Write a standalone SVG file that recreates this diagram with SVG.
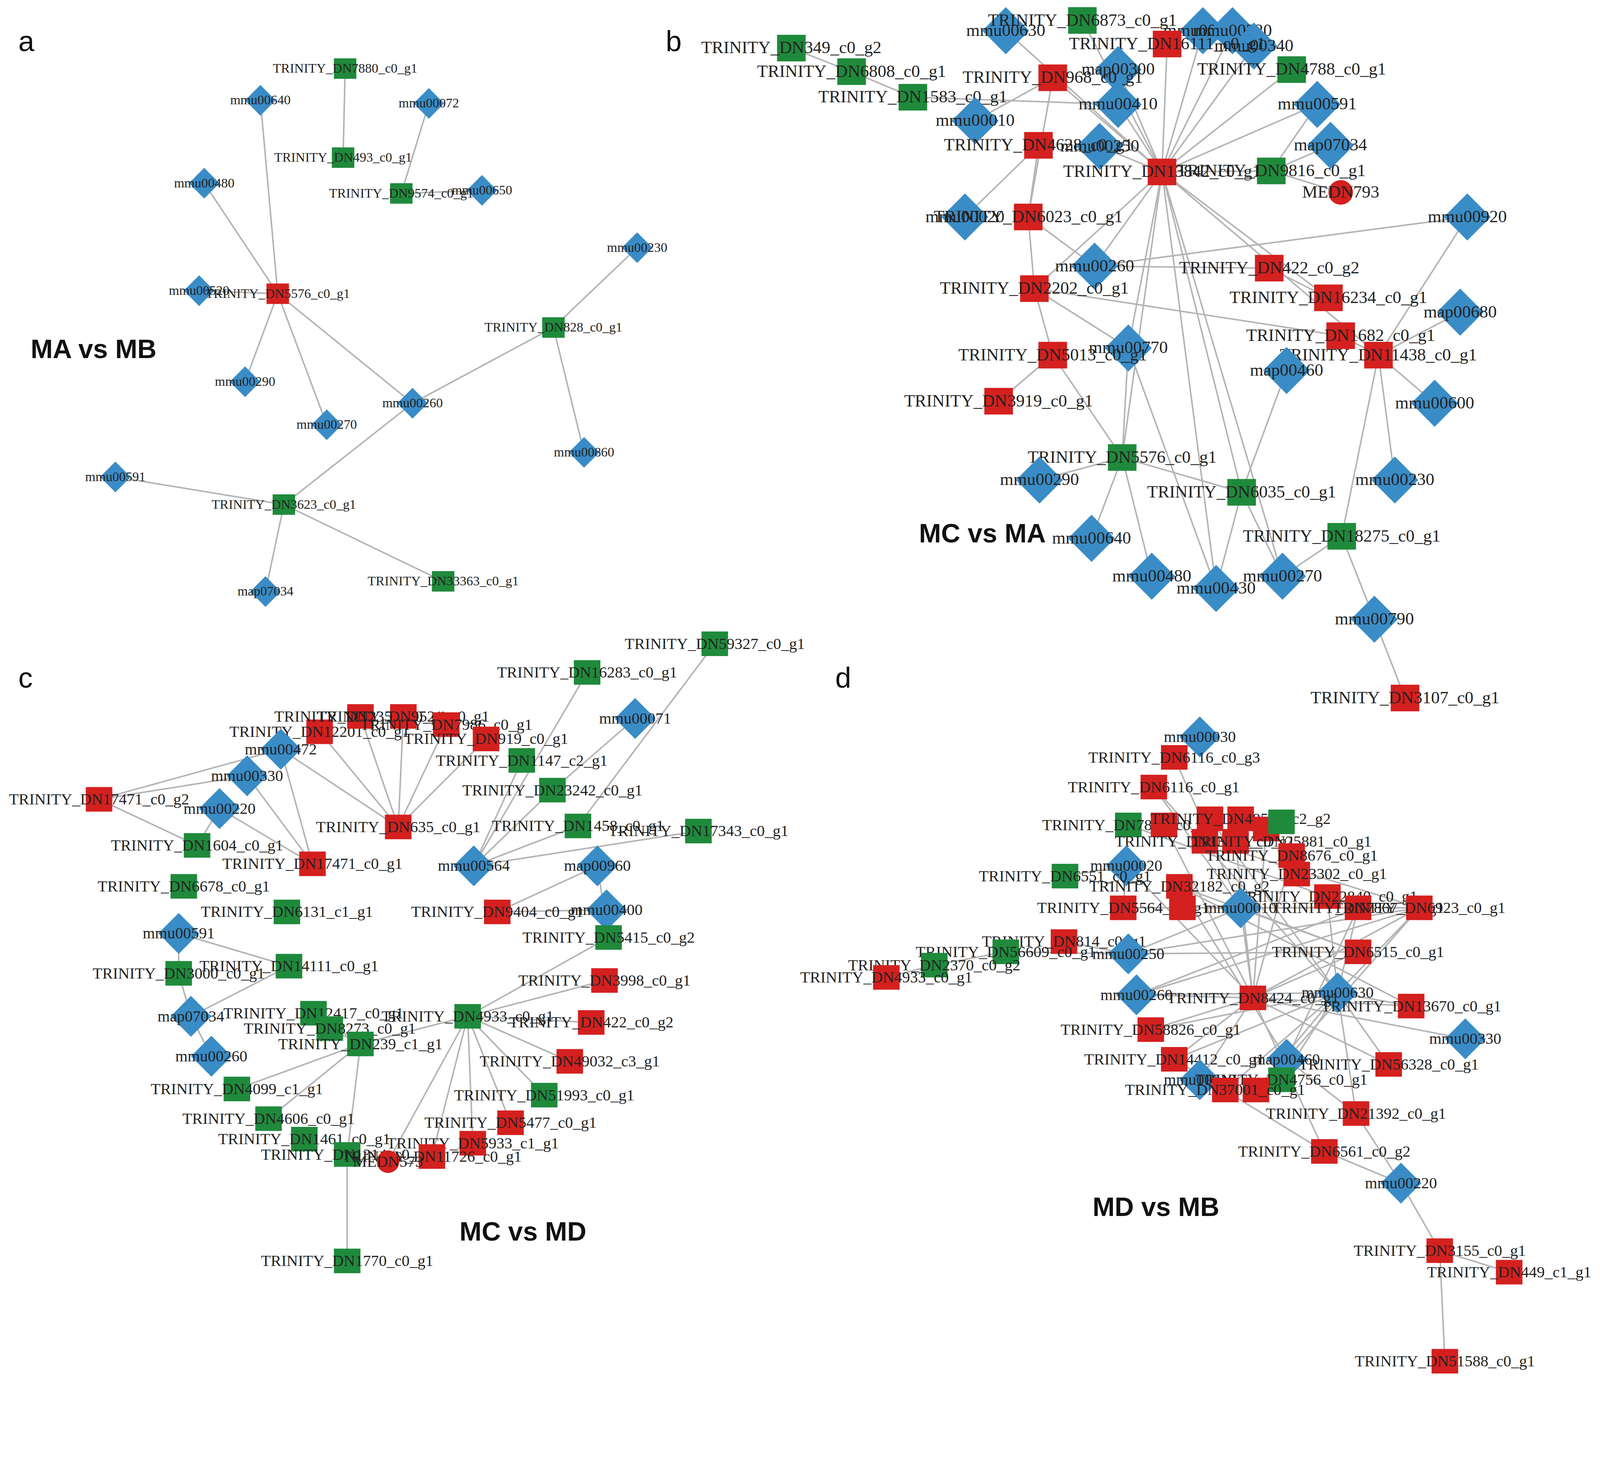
<svg xmlns="http://www.w3.org/2000/svg" xmlns:xlink="http://www.w3.org/1999/xlink" width="4337" height="3744" viewBox="0 0 4337 3744">
<style>
.e line{stroke:#b4b4b4;stroke-width:1.5}
.b{fill:#3a8cc6}.g{fill:#1f8a3b}.r{fill:#d4201f}
text{font-family:"Liberation Serif",serif;text-anchor:middle;fill:#222}
.ta{font-size:13px}.tb{font-size:17px}.tc{font-size:15.5px}
.L{font-family:"Liberation Sans",Arial,sans-serif;font-weight:bold;font-size:26px;text-anchor:start;fill:#111}
.P{font-family:"Liberation Sans",Arial,sans-serif;font-size:28px;text-anchor:start;fill:#111}
</style>
<defs>
<path id="dA" class="b" d="M0,-15L15,0L0,15L-15,0Z"/>
<rect id="gA" class="g" x="-11" y="-10" width="22" height="20"/>
<rect id="rA" class="r" x="-11" y="-10" width="22" height="20"/>
<path id="dB" class="b" d="M0,-23L23,0L0,23L-23,0Z"/>
<rect id="gB" class="g" x="-14" y="-13" width="28" height="26"/>
<rect id="rB" class="r" x="-14" y="-13" width="28" height="26"/>
<circle id="cB" class="r" r="12"/>
<path id="dC" class="b" d="M0,-20L20,0L0,20L-20,0Z"/>
<rect id="gC" class="g" x="-13" y="-12" width="26" height="24"/>
<rect id="rC" class="r" x="-13" y="-12" width="26" height="24"/>
<circle id="cC" class="r" r="11"/>
</defs>
<rect width="4337" height="3744" fill="#fff"/>
<g transform="scale(2.614,2.621)">
<g id="connectors" class="e">
<line x1="338" y1="67" x2="336" y2="154"/><line x1="420" y1="101" x2="393" y2="189"/><line x1="393" y1="189" x2="472" y2="186"/>
<line x1="255" y1="98" x2="272" y2="287"/><line x1="200" y1="179" x2="272" y2="287"/><line x1="195" y1="284" x2="272" y2="287"/>
<line x1="272" y1="287" x2="240" y2="373"/><line x1="272" y1="287" x2="320" y2="415"/><line x1="272" y1="287" x2="404" y2="394"/>
<line x1="404" y1="394" x2="542" y2="320"/><line x1="542" y1="320" x2="624" y2="242"/><line x1="542" y1="320" x2="572" y2="442"/>
<line x1="404" y1="394" x2="278" y2="493"/><line x1="113" y1="466" x2="278" y2="493"/><line x1="278" y1="493" x2="260" y2="578"/><line x1="278" y1="493" x2="434" y2="568"/>
<line x1="775" y1="47" x2="834" y2="70"/><line x1="834" y1="70" x2="894" y2="95"/><line x1="894" y1="95" x2="1095" y2="102"/>
<line x1="1138" y1="168" x2="985" y2="30"/><line x1="1138" y1="168" x2="1031" y2="76"/><line x1="1138" y1="168" x2="1095" y2="102"/>
<line x1="1138" y1="168" x2="1077" y2="143"/><line x1="1138" y1="168" x2="1245" y2="167"/><line x1="1138" y1="168" x2="1290" y2="102"/>
<line x1="1138" y1="168" x2="1265" y2="68"/><line x1="1138" y1="168" x2="1072" y2="260"/><line x1="1138" y1="168" x2="1013" y2="282"/>
<line x1="1138" y1="168" x2="1105" y2="340"/><line x1="1138" y1="168" x2="1099" y2="447"/><line x1="1138" y1="168" x2="1216" y2="481"/>
<line x1="1138" y1="168" x2="1191" y2="575"/><line x1="1138" y1="168" x2="1256" y2="563"/><line x1="1138" y1="168" x2="1301" y2="291"/>
<line x1="1138" y1="168" x2="1350" y2="347"/><line x1="1138" y1="168" x2="1143" y2="43"/><line x1="1138" y1="168" x2="1060" y2="20"/>
<line x1="1138" y1="168" x2="1095" y2="68"/><line x1="1138" y1="168" x2="1207" y2="30"/><line x1="1138" y1="168" x2="1228" y2="45"/><line x1="1138" y1="168" x2="1178" y2="30"/>
<line x1="1031" y1="76" x2="955" y2="118"/><line x1="1031" y1="76" x2="1007" y2="212"/><line x1="1017" y1="142" x2="945" y2="212"/><line x1="1017" y1="142" x2="1007" y2="212"/>
<line x1="1007" y1="212" x2="1013" y2="282"/><line x1="1007" y1="212" x2="1072" y2="260"/><line x1="1013" y1="282" x2="1031" y2="347"/><line x1="1013" y1="282" x2="1105" y2="340"/>
<line x1="1031" y1="347" x2="978" y2="392"/><line x1="1031" y1="347" x2="1099" y2="447"/><line x1="1105" y1="340" x2="1099" y2="447"/>
<line x1="1099" y1="447" x2="1018" y2="469"/><line x1="1099" y1="447" x2="1069" y2="526"/><line x1="1099" y1="447" x2="1128" y2="563"/><line x1="1099" y1="447" x2="1216" y2="481"/>
<line x1="1072" y1="260" x2="1243" y2="262"/><line x1="1072" y1="260" x2="1437" y2="212"/><line x1="1243" y1="262" x2="1301" y2="291"/><line x1="1013" y1="282" x2="1313" y2="328"/>
<line x1="1313" y1="328" x2="1350" y2="347"/><line x1="1350" y1="347" x2="1437" y2="212"/><line x1="1350" y1="347" x2="1430" y2="305"/><line x1="1350" y1="347" x2="1405" y2="394"/>
<line x1="1350" y1="347" x2="1366" y2="469"/><line x1="1350" y1="347" x2="1314" y2="524"/><line x1="1314" y1="524" x2="1346" y2="605"/><line x1="1346" y1="605" x2="1376" y2="682"/>
<line x1="1216" y1="481" x2="1260" y2="362"/><line x1="1216" y1="481" x2="1191" y2="575"/><line x1="1216" y1="481" x2="1256" y2="563"/><line x1="1314" y1="524" x2="1256" y2="563"/>
<line x1="1290" y1="102" x2="1245" y2="167"/><line x1="1303" y1="142" x2="1245" y2="167"/><line x1="1245" y1="167" x2="1313" y2="188"/><line x1="1105" y1="340" x2="1191" y2="575"/>
<line x1="700" y1="629" x2="566" y2="807"/><line x1="575" y1="657" x2="464" y2="846"/><line x1="622" y1="702" x2="541" y2="772"/>
<line x1="464" y1="846" x2="511" y2="743"/><line x1="464" y1="846" x2="541" y2="772"/><line x1="464" y1="846" x2="566" y2="807"/><line x1="464" y1="846" x2="684" y2="812"/>
<line x1="390" y1="808" x2="313" y2="715"/><line x1="390" y1="808" x2="353" y2="700"/><line x1="390" y1="808" x2="395" y2="700"/><line x1="390" y1="808" x2="437" y2="708"/>
<line x1="390" y1="808" x2="476" y2="722"/><line x1="390" y1="808" x2="275" y2="732"/>
<line x1="97" y1="781" x2="275" y2="732"/><line x1="97" y1="781" x2="242" y2="758"/><line x1="97" y1="781" x2="193" y2="826"/>
<line x1="242" y1="758" x2="306" y2="844"/><line x1="215" y1="790" x2="306" y2="844"/><line x1="275" y1="732" x2="306" y2="844"/><line x1="215" y1="790" x2="193" y2="826"/>
<line x1="585" y1="846" x2="487" y2="891"/><line x1="585" y1="846" x2="596" y2="916"/><line x1="594" y1="889" x2="487" y2="891"/><line x1="596" y1="916" x2="458" y2="993"/>
<line x1="175" y1="912" x2="175" y2="951"/><line x1="175" y1="912" x2="283" y2="944"/><line x1="283" y1="944" x2="187" y2="993"/><line x1="175" y1="951" x2="187" y2="993"/><line x1="187" y1="993" x2="207" y2="1032"/>
<line x1="353" y1="1020" x2="307" y2="990"/><line x1="353" y1="1020" x2="323" y2="1005"/><line x1="353" y1="1020" x2="232" y2="1064"/><line x1="353" y1="1020" x2="263" y2="1093"/>
<line x1="353" y1="1020" x2="340" y2="1128"/><line x1="340" y1="1128" x2="340" y2="1232"/><line x1="353" y1="1020" x2="458" y2="993"/>
<line x1="458" y1="993" x2="592" y2="958"/><line x1="458" y1="993" x2="579" y2="999"/><line x1="458" y1="993" x2="558" y2="1037"/><line x1="458" y1="993" x2="533" y2="1070"/>
<line x1="458" y1="993" x2="500" y2="1097"/><line x1="458" y1="993" x2="463" y2="1117"/><line x1="458" y1="993" x2="423" y2="1130"/><line x1="458" y1="993" x2="380" y2="1135"/>
<line x1="1175" y1="720" x2="1150" y2="740"/><line x1="1150" y1="740" x2="1215" y2="887"/><line x1="1130" y1="769" x2="1215" y2="887"/><line x1="1130" y1="769" x2="1310" y2="970"/>
<line x1="1103" y1="846" x2="1043" y2="856"/><line x1="1103" y1="846" x2="1100" y2="887"/><line x1="1103" y1="846" x2="1227" y2="975"/>
<line x1="1215" y1="887" x2="1390" y2="887"/><line x1="1215" y1="887" x2="1330" y2="930"/><line x1="1215" y1="887" x2="1227" y2="975"/><line x1="1215" y1="887" x2="1105" y2="932"/>
<line x1="1100" y1="887" x2="1390" y2="887"/><line x1="1158" y1="887" x2="1330" y2="887"/><line x1="1105" y1="932" x2="1390" y2="887"/><line x1="1105" y1="932" x2="1330" y2="930"/>
<line x1="1105" y1="932" x2="1042" y2="920"/><line x1="1105" y1="932" x2="985" y2="930"/><line x1="985" y1="930" x2="915" y2="943"/><line x1="915" y1="943" x2="868" y2="955"/>
<line x1="1113" y1="972" x2="1390" y2="887"/><line x1="1113" y1="972" x2="1330" y2="887"/><line x1="1113" y1="972" x2="1227" y2="975"/><line x1="1113" y1="972" x2="1310" y2="970"/>
<line x1="1310" y1="970" x2="1390" y2="887"/><line x1="1310" y1="970" x2="1330" y2="887"/><line x1="1310" y1="970" x2="1300" y2="876"/><line x1="1310" y1="970" x2="1382" y2="983"/>
<line x1="1310" y1="970" x2="1360" y2="1040"/><line x1="1310" y1="970" x2="1328" y2="1088"/><line x1="1310" y1="970" x2="1127" y2="1006"/><line x1="1310" y1="970" x2="1150" y2="1035"/>
<line x1="1310" y1="970" x2="1255" y2="1055"/><line x1="1310" y1="970" x2="1200" y2="1065"/><line x1="1310" y1="970" x2="1230" y2="1065"/><line x1="1310" y1="970" x2="1185" y2="800"/>
<line x1="1227" y1="975" x2="1390" y2="887"/><line x1="1227" y1="975" x2="1330" y2="930"/><line x1="1227" y1="975" x2="1382" y2="983"/><line x1="1227" y1="975" x2="1435" y2="1015"/>
<line x1="1227" y1="975" x2="1127" y2="1006"/><line x1="1227" y1="975" x2="1150" y2="1035"/><line x1="1227" y1="975" x2="1175" y2="1055"/><line x1="1227" y1="975" x2="1360" y2="1040"/>
<line x1="1227" y1="975" x2="1210" y2="822"/><line x1="1227" y1="975" x2="1240" y2="810"/><line x1="1227" y1="975" x2="1140" y2="806"/><line x1="1227" y1="975" x2="1265" y2="836"/>
<line x1="1260" y1="1035" x2="1330" y2="887"/><line x1="1260" y1="1035" x2="1390" y2="887"/><line x1="1260" y1="1035" x2="1328" y2="1088"/><line x1="1260" y1="1035" x2="1155" y2="866"/>
<line x1="1155" y1="866" x2="1330" y2="930"/><line x1="1155" y1="866" x2="1382" y2="983"/><line x1="1105" y1="806" x2="1330" y2="887"/><line x1="1180" y1="822" x2="1390" y2="887"/>
<line x1="1297" y1="1125" x2="1372" y2="1156"/><line x1="1328" y1="1088" x2="1372" y2="1156"/><line x1="1372" y1="1156" x2="1410" y2="1222"/><line x1="1410" y1="1222" x2="1415" y2="1330"/>
<line x1="1410" y1="1222" x2="1478" y2="1243"/>
<line x1="1227" y1="975" x2="1297" y2="1125"/><line x1="1150" y1="1035" x2="1297" y2="1125"/>
</g>
<g id="a_DN7880" transform="translate(338,67)"><use href="#gA"/><text class="ta" dy="4">TRINITY_DN7880_c0_g1</text></g>
<g id="a_mmu00640" transform="translate(255,98)"><use href="#dA"/><text class="ta" dy="4">mmu00640</text></g>
<g id="a_mmu00072" transform="translate(420,101)"><use href="#dA"/><text class="ta" dy="4">mmu00072</text></g>
<g id="a_DN493" transform="translate(336,154)"><use href="#gA"/><text class="ta" dy="4">TRINITY_DN493_c0_g1</text></g>
<g id="a_mmu00480" transform="translate(200,179)"><use href="#dA"/><text class="ta" dy="4">mmu00480</text></g>
<g id="a_mmu00650" transform="translate(472,186)"><use href="#dA"/><text class="ta" dy="4">mmu00650</text></g>
<g id="a_DN9574" transform="translate(393,189)"><use href="#gA"/><text class="ta" dy="4">TRINITY_DN9574_c0_g1</text></g>
<g id="a_mmu00230" transform="translate(624,242)"><use href="#dA"/><text class="ta" dy="4">mmu00230</text></g>
<g id="a_mmu00520" transform="translate(195,284)"><use href="#dA"/><text class="ta" dy="4">mmu00520</text></g>
<g id="a_DN5576" transform="translate(272,287)"><use href="#rA"/><text class="ta" dy="4">TRINITY_DN5576_c0_g1</text></g>
<g id="a_DN828" transform="translate(542,320)"><use href="#gA"/><text class="ta" dy="4">TRINITY_DN828_c0_g1</text></g>
<g id="a_mmu00290" transform="translate(240,373)"><use href="#dA"/><text class="ta" dy="4">mmu00290</text></g>
<g id="a_mmu00260" transform="translate(404,394)"><use href="#dA"/><text class="ta" dy="4">mmu00260</text></g>
<g id="a_mmu00270" transform="translate(320,415)"><use href="#dA"/><text class="ta" dy="4">mmu00270</text></g>
<g id="a_mmu00860" transform="translate(572,442)"><use href="#dA"/><text class="ta" dy="4">mmu00860</text></g>
<g id="a_mmu00591" transform="translate(113,466)"><use href="#dA"/><text class="ta" dy="4">mmu00591</text></g>
<g id="a_DN3623" transform="translate(278,493)"><use href="#gA"/><text class="ta" dy="4">TRINITY_DN3623_c0_g1</text></g>
<g id="a_DN33363" transform="translate(434,568)"><use href="#gA"/><text class="ta" dy="4">TRINITY_DN33363_c0_g1</text></g>
<g id="a_map07034" transform="translate(260,578)"><use href="#dA"/><text class="ta" dy="4">map07034</text></g>
<g id="b_DN349" transform="translate(775,47)"><use href="#gB"/><text class="tb" dy="5">TRINITY_DN349_c0_g2</text></g>
<g id="b_DN6808" transform="translate(834,70)"><use href="#gB"/><text class="tb" dy="5">TRINITY_DN6808_c0_g1</text></g>
<g id="b_DN1583" transform="translate(894,95)"><use href="#gB"/><text class="tb" dy="5">TRINITY_DN1583_c0_g1</text></g>
<g id="b_mmu00630" transform="translate(985,30)"><use href="#dB"/><text class="tb" dy="5">mmu00630</text></g>
<g id="b_DN6873" transform="translate(1060,20)"><use href="#gB"/><text class="tb" dy="5">TRINITY_DN6873_c0_g1</text></g>
<g id="b_mmu00760" transform="translate(1178,30)"><use href="#dB"/><text class="tb" dy="5">mmu00760</text></g>
<g id="b_mmu00220" transform="translate(1207,30)"><use href="#dB"/><text class="tb" dy="5">mmu00220</text></g>
<g id="b_mmu00340" transform="translate(1228,45)"><use href="#dB"/><text class="tb" dy="5">mmu00340</text></g>
<g id="b_DN16111" transform="translate(1143,43)"><use href="#rB"/><text class="tb" dy="5">TRINITY_DN16111_c0_g1</text></g>
<g id="b_map00300" transform="translate(1095,68)"><use href="#dB"/><text class="tb" dy="5">map00300</text></g>
<g id="b_DN968" transform="translate(1031,76)"><use href="#rB"/><text class="tb" dy="5">TRINITY_DN968_c0_g1</text></g>
<g id="b_DN4788" transform="translate(1265,68)"><use href="#gB"/><text class="tb" dy="5">TRINITY_DN4788_c0_g1</text></g>
<g id="b_mmu00410" transform="translate(1095,102)"><use href="#dB"/><text class="tb" dy="5">mmu00410</text></g>
<g id="b_mmu00591" transform="translate(1290,102)"><use href="#dB"/><text class="tb" dy="5">mmu00591</text></g>
<g id="b_mmu00010" transform="translate(955,118)"><use href="#dB"/><text class="tb" dy="5">mmu00010</text></g>
<g id="b_map07034" transform="translate(1303,142)"><use href="#dB"/><text class="tb" dy="5">map07034</text></g>
<g id="b_mmu00250" transform="translate(1077,143)"><use href="#dB"/><text class="tb" dy="5">mmu00250</text></g>
<g id="b_DN4628" transform="translate(1017,142)"><use href="#rB"/><text class="tb" dy="5">TRINITY_DN4628_c0_g1</text></g>
<g id="b_DN13842" transform="translate(1138,168)"><use href="#rB"/><text class="tb" dy="5">TRINITY_DN13842_c0_g1</text></g>
<g id="b_DN9816" transform="translate(1245,167)"><use href="#gB"/><text class="tb" dy="5">TRINITY_DN9816_c0_g1</text></g>
<g id="b_MEDN793" transform="translate(1313,188)"><use href="#cB"/><text class="tb" dy="5">MEDN793</text></g>
<g id="b_mmu00020" transform="translate(945,212)"><use href="#dB"/><text class="tb" dy="5">mmu00020</text></g>
<g id="b_DN6023" transform="translate(1007,212)"><use href="#rB"/><text class="tb" dy="5">TRINITY_DN6023_c0_g1</text></g>
<g id="b_mmu00920" transform="translate(1437,212)"><use href="#dB"/><text class="tb" dy="5">mmu00920</text></g>
<g id="b_mmu00260" transform="translate(1072,260)"><use href="#dB"/><text class="tb" dy="5">mmu00260</text></g>
<g id="b_DN422" transform="translate(1243,262)"><use href="#rB"/><text class="tb" dy="5">TRINITY_DN422_c0_g2</text></g>
<g id="b_DN2202" transform="translate(1013,282)"><use href="#rB"/><text class="tb" dy="5">TRINITY_DN2202_c0_g1</text></g>
<g id="b_DN16234" transform="translate(1301,291)"><use href="#rB"/><text class="tb" dy="5">TRINITY_DN16234_c0_g1</text></g>
<g id="b_map00680" transform="translate(1430,305)"><use href="#dB"/><text class="tb" dy="5">map00680</text></g>
<g id="b_DN1682" transform="translate(1313,328)"><use href="#rB"/><text class="tb" dy="5">TRINITY_DN1682_c0_g1</text></g>
<g id="b_mmu00770" transform="translate(1105,340)"><use href="#dB"/><text class="tb" dy="5">mmu00770</text></g>
<g id="b_DN5013" transform="translate(1031,347)"><use href="#rB"/><text class="tb" dy="5">TRINITY_DN5013_c0_g1</text></g>
<g id="b_DN11438" transform="translate(1350,347)"><use href="#rB"/><text class="tb" dy="5">TRINITY_DN11438_c0_g1</text></g>
<g id="b_map00460" transform="translate(1260,362)"><use href="#dB"/><text class="tb" dy="5">map00460</text></g>
<g id="b_DN3919" transform="translate(978,392)"><use href="#rB"/><text class="tb" dy="5">TRINITY_DN3919_c0_g1</text></g>
<g id="b_mmu00600" transform="translate(1405,394)"><use href="#dB"/><text class="tb" dy="5">mmu00600</text></g>
<g id="b_DN5576" transform="translate(1099,447)"><use href="#gB"/><text class="tb" dy="5">TRINITY_DN5576_c0_g1</text></g>
<g id="b_mmu00290" transform="translate(1018,469)"><use href="#dB"/><text class="tb" dy="5">mmu00290</text></g>
<g id="b_mmu00230" transform="translate(1366,469)"><use href="#dB"/><text class="tb" dy="5">mmu00230</text></g>
<g id="b_DN6035" transform="translate(1216,481)"><use href="#gB"/><text class="tb" dy="5">TRINITY_DN6035_c0_g1</text></g>
<g id="b_DN18275" transform="translate(1314,524)"><use href="#gB"/><text class="tb" dy="5">TRINITY_DN18275_c0_g1</text></g>
<g id="b_mmu00640" transform="translate(1069,526)"><use href="#dB"/><text class="tb" dy="5">mmu00640</text></g>
<g id="b_mmu00480" transform="translate(1128,563)"><use href="#dB"/><text class="tb" dy="5">mmu00480</text></g>
<g id="b_mmu00270" transform="translate(1256,563)"><use href="#dB"/><text class="tb" dy="5">mmu00270</text></g>
<g id="b_mmu00430" transform="translate(1191,575)"><use href="#dB"/><text class="tb" dy="5">mmu00430</text></g>
<g id="b_mmu00790" transform="translate(1346,605)"><use href="#dB"/><text class="tb" dy="5">mmu00790</text></g>
<g id="b_DN3107" transform="translate(1376,682)"><use href="#rB"/><text class="tb" dy="5">TRINITY_DN3107_c0_g1</text></g>
<g id="c_DN59327" transform="translate(700,629)"><use href="#gC"/><text class="tc" dy="5">TRINITY_DN59327_c0_g1</text></g>
<g id="c_DN16283" transform="translate(575,657)"><use href="#gC"/><text class="tc" dy="5">TRINITY_DN16283_c0_g1</text></g>
<g id="c_DN12201" transform="translate(313,715)"><use href="#rC"/><text class="tc" dy="5">TRINITY_DN12201_c0_g1</text></g>
<g id="c_DN2359" transform="translate(353,700)"><use href="#rC"/><text class="tc" dy="5">TRINITY_DN2359_c0_g1</text></g>
<g id="c_DN9521" transform="translate(395,700)"><use href="#rC"/><text class="tc" dy="5">TRINITY_DN9521_c0_g1</text></g>
<g id="c_DN7986" transform="translate(437,708)"><use href="#rC"/><text class="tc" dy="5">TRINITY_DN7986_c0_g1</text></g>
<g id="c_DN919" transform="translate(476,722)"><use href="#rC"/><text class="tc" dy="5">TRINITY_DN919_c0_g1</text></g>
<g id="c_mmu00071" transform="translate(622,702)"><use href="#dC"/><text class="tc" dy="5">mmu00071</text></g>
<g id="c_mmu00472" transform="translate(275,732)"><use href="#dC"/><text class="tc" dy="5">mmu00472</text></g>
<g id="c_DN1147" transform="translate(511,743)"><use href="#gC"/><text class="tc" dy="5">TRINITY_DN1147_c2_g1</text></g>
<g id="c_mmu00330" transform="translate(242,758)"><use href="#dC"/><text class="tc" dy="5">mmu00330</text></g>
<g id="c_DN23242" transform="translate(541,772)"><use href="#gC"/><text class="tc" dy="5">TRINITY_DN23242_c0_g1</text></g>
<g id="c_DN17471b" transform="translate(97,781)"><use href="#rC"/><text class="tc" dy="5">TRINITY_DN17471_c0_g2</text></g>
<g id="c_mmu00220" transform="translate(215,790)"><use href="#dC"/><text class="tc" dy="5">mmu00220</text></g>
<g id="c_DN635" transform="translate(390,808)"><use href="#rC"/><text class="tc" dy="5">TRINITY_DN635_c0_g1</text></g>
<g id="c_DN1458" transform="translate(566,807)"><use href="#gC"/><text class="tc" dy="5">TRINITY_DN1458_c0_g1</text></g>
<g id="c_DN17343" transform="translate(684,812)"><use href="#gC"/><text class="tc" dy="5">TRINITY_DN17343_c0_g1</text></g>
<g id="c_DN1604" transform="translate(193,826)"><use href="#gC"/><text class="tc" dy="5">TRINITY_DN1604_c0_g1</text></g>
<g id="c_DN17471a" transform="translate(306,844)"><use href="#rC"/><text class="tc" dy="5">TRINITY_DN17471_c0_g1</text></g>
<g id="c_mmu00564" transform="translate(464,846)"><use href="#dC"/><text class="tc" dy="5">mmu00564</text></g>
<g id="c_map00960" transform="translate(585,846)"><use href="#dC"/><text class="tc" dy="5">map00960</text></g>
<g id="c_DN6678" transform="translate(180,866)"><use href="#gC"/><text class="tc" dy="5">TRINITY_DN6678_c0_g1</text></g>
<g id="c_DN9404" transform="translate(487,891)"><use href="#rC"/><text class="tc" dy="5">TRINITY_DN9404_c0_g1</text></g>
<g id="c_mmu00400" transform="translate(594,889)"><use href="#dC"/><text class="tc" dy="5">mmu00400</text></g>
<g id="c_DN6131" transform="translate(281,891)"><use href="#gC"/><text class="tc" dy="5">TRINITY_DN6131_c1_g1</text></g>
<g id="c_mmu00591" transform="translate(175,912)"><use href="#dC"/><text class="tc" dy="5">mmu00591</text></g>
<g id="c_DN5415" transform="translate(596,916)"><use href="#gC"/><text class="tc" dy="5">TRINITY_DN5415_c0_g2</text></g>
<g id="c_DN14111" transform="translate(283,944)"><use href="#gC"/><text class="tc" dy="5">TRINITY_DN14111_c0_g1</text></g>
<g id="c_DN3000" transform="translate(175,951)"><use href="#gC"/><text class="tc" dy="5">TRINITY_DN3000_c0_g1</text></g>
<g id="c_DN3998" transform="translate(592,958)"><use href="#rC"/><text class="tc" dy="5">TRINITY_DN3998_c0_g1</text></g>
<g id="c_map07034" transform="translate(187,993)"><use href="#dC"/><text class="tc" dy="5">map07034</text></g>
<g id="c_DN12417" transform="translate(307,990)"><use href="#gC"/><text class="tc" dy="5">TRINITY_DN12417_c0_g1</text></g>
<g id="c_DN4933" transform="translate(458,993)"><use href="#gC"/><text class="tc" dy="5">TRINITY_DN4933_c0_g1</text></g>
<g id="c_DN422" transform="translate(579,999)"><use href="#rC"/><text class="tc" dy="5">TRINITY_DN422_c0_g2</text></g>
<g id="c_DN8273" transform="translate(323,1005)"><use href="#gC"/><text class="tc" dy="5">TRINITY_DN8273_c0_g1</text></g>
<g id="c_DN239" transform="translate(353,1020)"><use href="#gC"/><text class="tc" dy="5">TRINITY_DN239_c1_g1</text></g>
<g id="c_mmu00260" transform="translate(207,1032)"><use href="#dC"/><text class="tc" dy="5">mmu00260</text></g>
<g id="c_DN49032" transform="translate(558,1037)"><use href="#rC"/><text class="tc" dy="5">TRINITY_DN49032_c3_g1</text></g>
<g id="c_DN4099" transform="translate(232,1064)"><use href="#gC"/><text class="tc" dy="5">TRINITY_DN4099_c1_g1</text></g>
<g id="c_DN51993" transform="translate(533,1070)"><use href="#gC"/><text class="tc" dy="5">TRINITY_DN51993_c0_g1</text></g>
<g id="c_DN4606" transform="translate(263,1093)"><use href="#gC"/><text class="tc" dy="5">TRINITY_DN4606_c0_g1</text></g>
<g id="c_DN5477" transform="translate(500,1097)"><use href="#rC"/><text class="tc" dy="5">TRINITY_DN5477_c0_g1</text></g>
<g id="c_DN1461" transform="translate(298,1113)"><use href="#gC"/><text class="tc" dy="5">TRINITY_DN1461_c0_g1</text></g>
<g id="c_DN5933" transform="translate(463,1117)"><use href="#rC"/><text class="tc" dy="5">TRINITY_DN5933_c1_g1</text></g>
<g id="c_DN1314" transform="translate(340,1128)"><use href="#gC"/><text class="tc" dy="5">TRINITY_DN1314_c0_g1</text></g>
<g id="c_DN11726" transform="translate(423,1130)"><use href="#rC"/><text class="tc" dy="5">TRINITY_DN11726_c0_g1</text></g>
<g id="c_MEDN" transform="translate(380,1135)"><use href="#cC"/><text class="tc" dy="5">MEDN573</text></g>
<g id="c_DN1770" transform="translate(340,1232)"><use href="#gC"/><text class="tc" dy="5">TRINITY_DN1770_c0_g1</text></g>
<g id="d_mmu00030" transform="translate(1175,720)"><use href="#dC"/><text class="tc" dy="5">mmu00030</text></g>
<g id="d_DN6116g3" transform="translate(1150,740)"><use href="#rC"/><text class="tc" dy="5">TRINITY_DN6116_c0_g3</text></g>
<g id="d_DN6116g1" transform="translate(1130,769)"><use href="#rC"/><text class="tc" dy="5">TRINITY_DN6116_c0_g1</text></g>
<g id="d_DN7893" transform="translate(1105,806)"><use href="#gC"/><text class="tc" dy="5">TRINITY_DN7893_c0_g1</text></g>
<g id="d_c1" transform="translate(1140,806)"><use href="#rC"/></g>
<g id="d_c2" transform="translate(1185,800)"><use href="#rC"/></g>
<g id="d_DN48556" transform="translate(1215,800)"><use href="#rC"/><text class="tc" dy="5">TRINITY_DN48556_c2_g2</text></g>
<g id="d_c3" transform="translate(1240,810)"><use href="#rC"/></g>
<g id="d_c4" transform="translate(1255,803)"><use href="#gC"/></g>
<g id="d_DN13034" transform="translate(1180,822)"><use href="#rC"/><text class="tc" dy="5">TRINITY_DN13034_c0_g1</text></g>
<g id="d_DN25881" transform="translate(1210,822)"><use href="#rC"/><text class="tc" dx="45" dy="5">TRINITY_DN25881_c0_g1</text></g>
<g id="d_DN8676" transform="translate(1265,836)"><use href="#rC"/><text class="tc" dy="5">TRINITY_DN8676_c0_g1</text></g>
<g id="d_mmu00020" transform="translate(1103,846)"><use href="#dC"/><text class="tc" dy="5">mmu00020</text></g>
<g id="d_DN6551" transform="translate(1043,856)"><use href="#gC"/><text class="tc" dy="5">TRINITY_DN6551_c0_g1</text></g>
<g id="d_DN23302" transform="translate(1270,854)"><use href="#rC"/><text class="tc" dy="5">TRINITY_DN23302_c0_g1</text></g>
<g id="d_DN32182" transform="translate(1155,866)"><use href="#rC"/><text class="tc" dy="5">TRINITY_DN32182_c0_g2</text></g>
<g id="d_DN22840" transform="translate(1300,876)"><use href="#rC"/><text class="tc" dy="5">TRINITY_DN22840_c0_g1</text></g>
<g id="d_DN5564" transform="translate(1100,887)"><use href="#rC"/><text class="tc" dy="5">TRINITY_DN5564_c0_g1</text></g>
<g id="d_DN2468" transform="translate(1158,887)"><use href="#rC"/></g>
<g id="d_mmu00010" transform="translate(1215,887)"><use href="#dC"/><text class="tc" dy="5">mmu00010</text></g>
<g id="d_DN7867" transform="translate(1330,887)"><use href="#rC"/><text class="tc" dy="5">TRINITY_DN7867_c0_g1</text></g>
<g id="d_DN6923" transform="translate(1390,887)"><use href="#rC"/><text class="tc" dy="5">TRINITY_DN6923_c0_g1</text></g>
<g id="d_DN814" transform="translate(1042,920)"><use href="#rC"/><text class="tc" dy="5">TRINITY_DN814_c0_g1</text></g>
<g id="d_DN56609" transform="translate(985,930)"><use href="#gC"/><text class="tc" dy="5">TRINITY_DN56609_c0_g1</text></g>
<g id="d_mmu00250" transform="translate(1105,932)"><use href="#dC"/><text class="tc" dy="5">mmu00250</text></g>
<g id="d_DN6515" transform="translate(1330,930)"><use href="#rC"/><text class="tc" dy="5">TRINITY_DN6515_c0_g1</text></g>
<g id="d_DN2370" transform="translate(915,943)"><use href="#gC"/><text class="tc" dy="5">TRINITY_DN2370_c0_g2</text></g>
<g id="d_DN4933" transform="translate(868,955)"><use href="#rC"/><text class="tc" dy="5">TRINITY_DN4933_c0_g1</text></g>
<g id="d_mmu00260" transform="translate(1113,972)"><use href="#dC"/><text class="tc" dy="5">mmu00260</text></g>
<g id="d_mmu00630" transform="translate(1310,970)"><use href="#dC"/><text class="tc" dy="5">mmu00630</text></g>
<g id="d_DN8424" transform="translate(1227,975)"><use href="#rC"/><text class="tc" dy="5">TRINITY_DN8424_c0_g1</text></g>
<g id="d_DN13670" transform="translate(1382,983)"><use href="#rC"/><text class="tc" dy="5">TRINITY_DN13670_c0_g1</text></g>
<g id="d_DN58826" transform="translate(1127,1006)"><use href="#rC"/><text class="tc" dy="5">TRINITY_DN58826_c0_g1</text></g>
<g id="d_mmu00330" transform="translate(1435,1015)"><use href="#dC"/><text class="tc" dy="5">mmu00330</text></g>
<g id="d_map00460" transform="translate(1260,1035)"><use href="#dC"/><text class="tc" dy="5">map00460</text></g>
<g id="d_DN14412" transform="translate(1150,1035)"><use href="#rC"/><text class="tc" dy="5">TRINITY_DN14412_c0_g1</text></g>
<g id="d_DN56328" transform="translate(1360,1040)"><use href="#rC"/><text class="tc" dy="5">TRINITY_DN56328_c0_g1</text></g>
<g id="d_mmu00910" transform="translate(1175,1055)"><use href="#dC"/><text class="tc" dy="5">mmu00910</text></g>
<g id="d_DN4756" transform="translate(1255,1055)"><use href="#gC"/><text class="tc" dy="5">TRINITY_DN4756_c0_g1</text></g>
<g id="d_DN4501" transform="translate(1200,1065)"><use href="#rC"/></g>
<g id="d_DN37001" transform="translate(1230,1065)"><use href="#rC"/><text class="tc" dx="-40" dy="5">TRINITY_DN37001_c0_g1</text></g>
<g id="d_DN21392" transform="translate(1328,1088)"><use href="#rC"/><text class="tc" dy="5">TRINITY_DN21392_c0_g1</text></g>
<g id="d_DN6561" transform="translate(1297,1125)"><use href="#rC"/><text class="tc" dy="5">TRINITY_DN6561_c0_g2</text></g>
<g id="d_mmu00220" transform="translate(1372,1156)"><use href="#dC"/><text class="tc" dy="5">mmu00220</text></g>
<g id="d_DN3155" transform="translate(1410,1222)"><use href="#rC"/><text class="tc" dy="5">TRINITY_DN3155_c0_g1</text></g>
<g id="d_DN449" transform="translate(1478,1243)"><use href="#rC"/><text class="tc" dy="5">TRINITY_DN449_c1_g1</text></g>
<g id="d_DN51588" transform="translate(1415,1330)"><use href="#rC"/><text class="tc" dy="5">TRINITY_DN51588_c0_g1</text></g>
<text class="P" x="18" y="50">a</text><text class="P" x="652" y="50">b</text>
<text class="P" x="18" y="672">c</text><text class="P" x="818" y="672">d</text>
<text class="L" x="30" y="350">MA vs MB</text><text class="L" x="900" y="530">MC vs MA</text>
<text class="L" x="450" y="1212">MC vs MD</text><text class="L" x="1070" y="1188">MD vs MB</text>
</g>
</svg>
